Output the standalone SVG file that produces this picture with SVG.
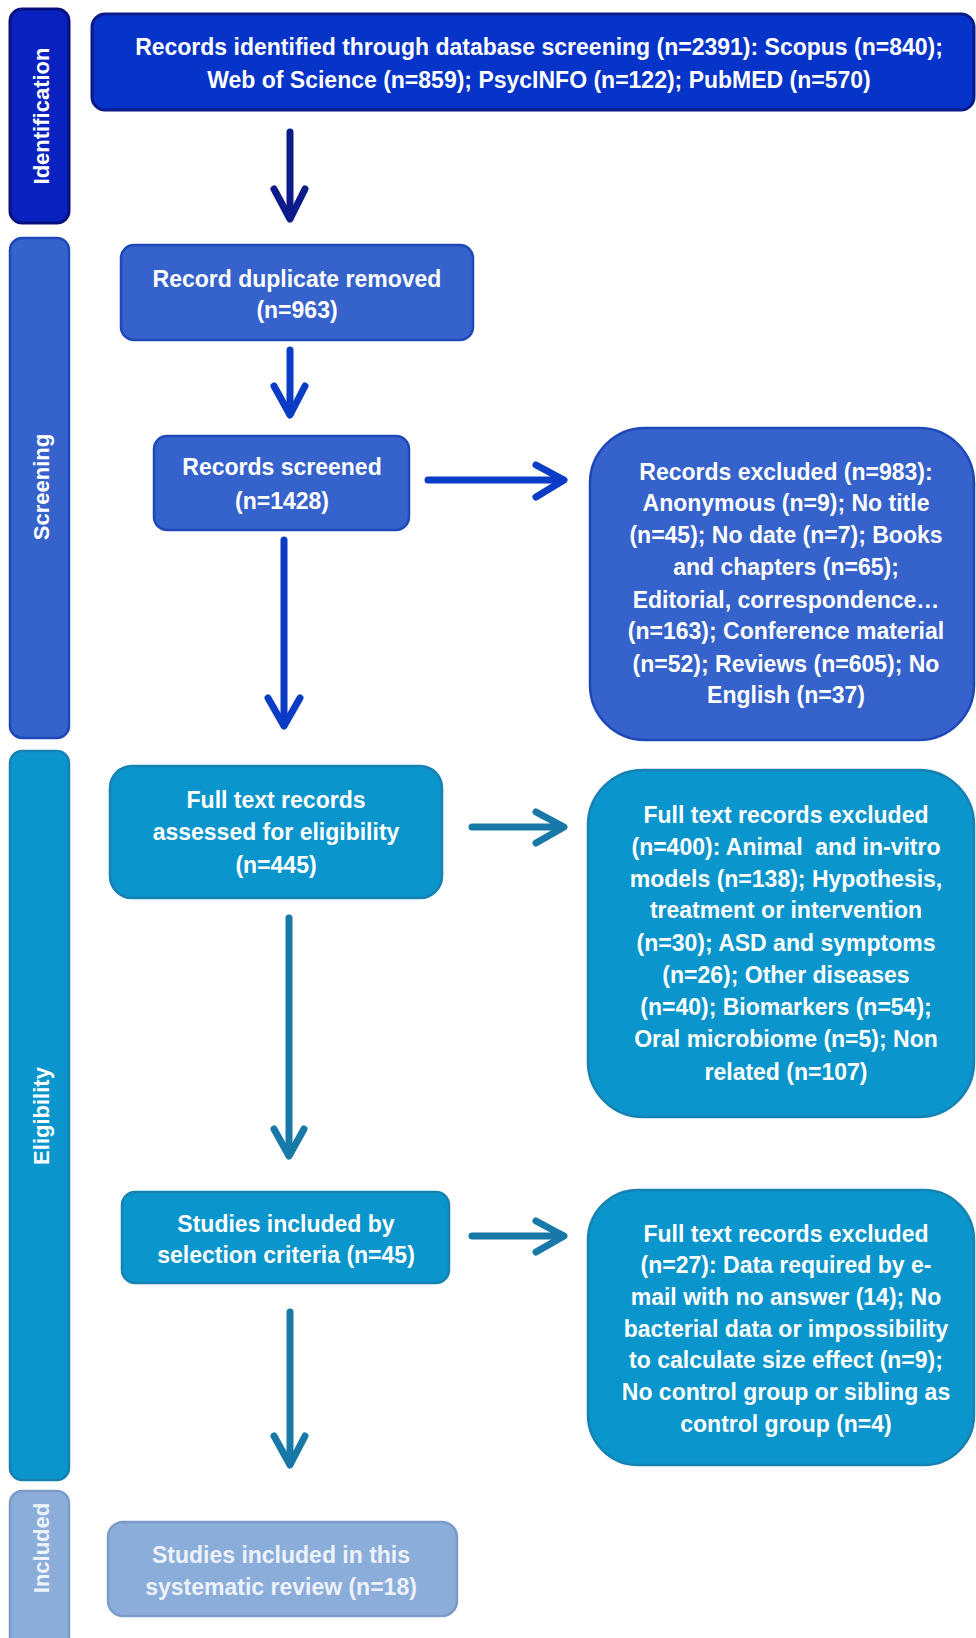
<svg xmlns="http://www.w3.org/2000/svg" width="976" height="1638" viewBox="0 0 976 1638">
<style>
text{font-family:"Liberation Sans",Arial,sans-serif;font-weight:bold;font-size:23px;fill:#ffffff;text-anchor:middle}
.side{font-size:22px}
.inc{fill:#eef2fa}
.id{fill:#0a22c0;stroke:#0a1080;stroke-width:3}
.top{fill:#0633c8;stroke:#0a1a8a;stroke-width:3}
.scr{fill:#3562cb;stroke:#1f48b8;stroke-width:2.5}
.eli{fill:#0a96cc;stroke:#1781b2;stroke-width:2.5}
.incb{fill:#8badda;stroke:#7b9bc8;stroke-width:2.5}
.a{fill:none;stroke-width:7;stroke-linecap:round;stroke-linejoin:round}
.a1{stroke:#0c1a8a}
.a2{stroke:#0b3cc6}
.a3{stroke:#1878a8}
</style>
<rect width="976" height="1638" fill="#ffffff"/>

<g id="phase-identification">
<rect class="id" x="10" y="9" width="59" height="214" rx="12"/>
<text class="side" transform="translate(49,116) rotate(-90)">Identification</text>
</g>
<g id="phase-screening">
<rect class="scr" x="10" y="238" width="59" height="500" rx="12"/>
<text class="side" transform="translate(49,487) rotate(-90)">Screening</text>
</g>
<g id="phase-eligibility">
<rect class="eli" x="10" y="751" width="59" height="729" rx="12"/>
<text class="side" transform="translate(49,1116) rotate(-90)">Eligibility</text>
</g>
<g id="phase-included">
<rect class="incb" x="10" y="1491" width="59" height="160" rx="12"/>
<text class="side inc" transform="translate(49,1548) rotate(-90)">Included</text>
</g>

<g id="connectors">
<line class="a a1" x1="290" y1="132" x2="290" y2="218"/>
<polyline class="a a1" points="274,189 290,219 305,189"/>
<line class="a a2" x1="290" y1="350" x2="290" y2="414"/>
<polyline class="a a2" points="274,386 290,415 305,386"/>
<line class="a a2" x1="284" y1="540" x2="284" y2="725"/>
<polyline class="a a2" points="268,698 284,726 300,698"/>
<line class="a a2" x1="428" y1="480" x2="563" y2="480"/>
<polyline class="a a2" points="536,465 564,480 536,497"/>
<line class="a a3" x1="289" y1="918" x2="289" y2="1155"/>
<polyline class="a a3" points="274,1129 289,1156 304,1129"/>
<line class="a a3" x1="472" y1="827" x2="563" y2="827"/>
<polyline class="a a3" points="536,812 564,827 536,843"/>
<line class="a a3" x1="290" y1="1312" x2="290" y2="1464"/>
<polyline class="a a3" points="274,1436 290,1465 305,1436"/>
<line class="a a3" x1="472" y1="1236" x2="563" y2="1236"/>
<polyline class="a a3" points="536,1221 564,1236 536,1252"/>
</g>

<g id="n-identified">
<rect class="top" x="92" y="14" width="882" height="96" rx="13"/>
<text x="539" y="55">Records identified through database screening (n=2391): Scopus (n=840);</text>
<text x="539" y="88">Web of Science (n=859); PsycINFO (n=122); PubMED (n=570)</text>
</g>

<g id="n-duplicates">
<rect class="scr" x="121" y="245" width="352" height="95" rx="13"/>
<text x="297" y="287">Record duplicate removed</text>
<text x="297" y="318">(n=963)</text>
</g>

<g id="n-screened">
<rect class="scr" x="154" y="436" width="255" height="94" rx="13"/>
<text x="282" y="475">Records screened</text>
<text x="282" y="509">(n=1428)</text>
</g>

<g id="n-excluded1">
<rect class="scr" x="590" y="428" width="384" height="312" rx="55"/>
<text x="786" y="480">Records excluded (n=983):</text>
<text x="786" y="511">Anonymous (n=9); No title</text>
<text x="786" y="543">(n=45); No date (n=7); Books</text>
<text x="786" y="575">and chapters (n=65);</text>
<text x="786" y="608">Editorial, correspondence…</text>
<text x="786" y="639">(n=163); Conference material</text>
<text x="786" y="672">(n=52); Reviews (n=605); No</text>
<text x="786" y="703">English (n=37)</text>
</g>

<g id="n-fulltext">
<rect class="eli" x="110" y="766" width="332" height="132" rx="22"/>
<text x="276" y="808">Full text records</text>
<text x="276" y="840">assessed for eligibility</text>
<text x="276" y="873">(n=445)</text>
</g>

<g id="n-excluded2">
<rect class="eli" x="588" y="770" width="386" height="347" rx="55"/>
<text x="786" y="823">Full text records excluded</text>
<text x="786" y="855">(n=400): Animal&#160; and in-vitro</text>
<text x="786" y="887">models (n=138); Hypothesis,</text>
<text x="786" y="918">treatment or intervention</text>
<text x="786" y="951">(n=30); ASD and symptoms</text>
<text x="786" y="983">(n=26); Other diseases</text>
<text x="786" y="1015">(n=40); Biomarkers (n=54);</text>
<text x="786" y="1047">Oral microbiome (n=5); Non</text>
<text x="786" y="1080">related (n=107)</text>
</g>

<g id="n-selection">
<rect class="eli" x="122" y="1192" width="327" height="91" rx="13"/>
<text x="286" y="1232">Studies included by</text>
<text x="286" y="1263">selection criteria (n=45)</text>
</g>

<g id="n-excluded3">
<rect class="eli" x="588" y="1190" width="386" height="275" rx="50"/>
<text x="786" y="1242">Full text records excluded</text>
<text x="786" y="1273">(n=27): Data required by e-</text>
<text x="786" y="1305">mail with no answer (14); No</text>
<text x="786" y="1337">bacterial data or impossibility</text>
<text x="786" y="1368">to calculate size effect (n=9);</text>
<text x="786" y="1400">No control group or sibling as</text>
<text x="786" y="1432">control group (n=4)</text>
</g>

<g id="n-included">
<rect class="incb" x="108" y="1522" width="349" height="94" rx="15"/>
<text class="inc" x="281" y="1563">Studies included in this</text>
<text class="inc" x="281" y="1595">systematic review (n=18)</text>
</g>
</svg>
